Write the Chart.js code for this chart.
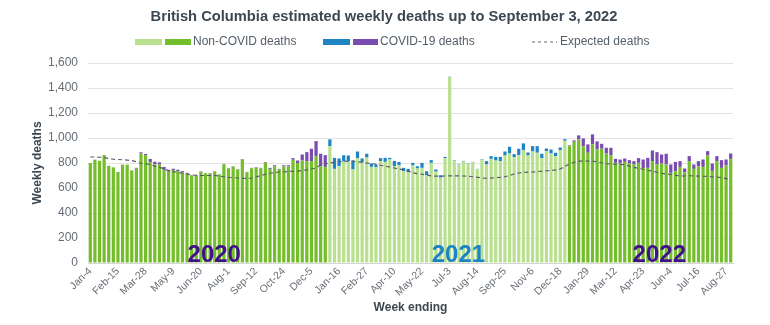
<!DOCTYPE html>
<html>
<head>
<meta charset="utf-8">
<script src="https://cdn.jsdelivr.net/npm/chart.js@4/dist/chart.umd.min.js"></script>
<style>
html, body { margin: 0; padding: 0; background: #fff; }
</style>
</head>
<body>
<canvas id="myChart" width="770" height="325"></canvas>
<script>
// weekly data, Jan 4 2020 .. Sep 3 2022 (140 weeks)
var tickLabels = ["Jan-4","Feb-15","Mar-28","May-9","Jun-20","Aug-1","Sep-12","Oct-24","Dec-5",
  "Jan-16","Feb-27","Apr-10","May-22","Jul-3","Aug-14","Sep-25","Nov-6","Dec-18",
  "Jan-29","Mar-12","Apr-23","Jun-4","Jul-16","Aug-27"];

var nonCovid = [
  800,827,818,864,778,765,728,787,787,741,
  755,876,862,806,790,787,745,734,744,735,
  725,716,700,700,730,717,717,731,708,790,
  756,772,748,829,726,758,763,757,802,753,
  774,747,772,772,826,800,820,815,815,855,
  774,769,935,753,774,812,815,748,839,806,
  844,769,766,815,809,828,774,782,734,726,
  780,756,761,702,801,731,683,839,1485,815,
  782,812,795,805,750,823,788,833,820,815,
  860,876,847,863,903,860,892,882,839,895,
  876,855,903,978,935,970,989,935,882,951,
  908,914,876,863,801,796,809,796,788,801,
  758,761,815,788,796,788,721,734,769,726,
  815,753,774,769,860,737,815,761,780,833];

var covid = [
  0,0,0,0,0,0,0,0,0,0,
  6,10,10,26,20,18,24,12,10,11,
  10,6,4,3,3,3,3,3,3,3,
  3,3,3,3,3,3,4,4,5,8,
  8,6,10,10,13,20,48,72,99,120,
  100,94,54,88,62,50,45,72,53,30,
  30,27,22,24,32,13,43,27,27,27,
  21,18,40,32,22,17,19,10,5,5,
  5,5,4,4,3,5,27,22,29,34,
  32,54,24,51,54,24,43,53,35,21,
  32,27,21,13,6,11,32,62,67,78,
  65,40,46,59,32,32,27,27,27,38,
  70,80,85,99,72,86,67,75,46,30,
  40,35,41,59,35,59,40,62,48,43];

var expected = [
  848,848,846,843,836,830,828,826,823,820,
  810,798,793,788,775,765,755,735,730,725,
  718,712,705,702,700,700,700,700,695,690,
  686,683,680,678,676,680,688,700,710,718,
  724,728,730,732,734,735,740,745,752,760,
  785,795,800,805,810,812,814,815,810,805,
  800,795,790,782,775,768,760,752,745,735,
  722,715,710,703,697,695,695,696,697,697,
  697,696,695,690,686,680,678,680,682,686,
  690,700,712,720,725,727,728,731,735,738,
  740,745,752,772,793,805,815,815,815,814,
  810,802,795,792,790,788,787,775,765,758,
  750,742,735,726,718,712,708,702,695,697,
  698,697,695,694,693,690,688,682,675,668];

var yearLabels = ["2020", "2021", "2022"];

var months = ["Jan","Feb","Mar","Apr","May","Jun","Jul","Aug","Sep","Oct","Nov","Dec"];
var weeks = [];
var years = [];
for (let i = 0; i < nonCovid.length; i++) {
  let d = new Date(2020, 0, 4 + 7 * i);
  weeks.push(months[d.getMonth()] + "-" + d.getDate());
  years.push(d.getFullYear());
}

var darkGreen = "#73be2a", lightGreen = "#b8e08f";
var blue = "#1f84c3", purple = "#7a4cb2";
var FONT = "'Liberation Sans', Arial, sans-serif";

var greenColors = years.map(y => y == 2021 ? lightGreen : darkGreen);
var covidColors = years.map(y => y == 2021 ? blue : purple);

var decor = {
  id: "decor",
  afterDraw(chart) {
    var ctx = chart.ctx;
    var x = chart.scales.x;
    ctx.save();
    // title
    ctx.fillStyle = "#3d4751";
    ctx.font = "bold 14.7px " + FONT;
    ctx.textAlign = "center";
    ctx.textBaseline = "middle";
    ctx.fillText("British Columbia estimated weekly deaths up to September 3, 2022", 384, 17);

    // legend
    ctx.font = "12px " + FONT;
    ctx.textAlign = "left";
    ctx.fillStyle = lightGreen; ctx.fillRect(135, 39, 27, 6);
    ctx.fillStyle = darkGreen; ctx.fillRect(165, 39, 26, 6);
    ctx.fillStyle = blue; ctx.fillRect(323, 39, 27, 6);
    ctx.fillStyle = purple; ctx.fillRect(353, 39, 25, 6);
    ctx.fillStyle = "#555e68";
    ctx.fillText("Non-COVID deaths", 193, 42);
    ctx.fillText("COVID-19 deaths", 380, 42);
    ctx.fillText("Expected deaths", 560, 42);
    ctx.strokeStyle = "#6a6478";
    ctx.lineWidth = 1.2;
    ctx.setLineDash([3, 3]);
    ctx.beginPath(); ctx.moveTo(532, 42); ctx.lineTo(557, 42); ctx.stroke();
    ctx.setLineDash([]);

    // axis titles
    ctx.fillStyle = "#3d4751";
    ctx.font = "bold 12px " + FONT;
    ctx.textAlign = "center";
    ctx.fillText("Week ending", (chart.chartArea.left + chart.chartArea.right) / 2, 308);
    ctx.translate(38, (chart.chartArea.top + chart.chartArea.bottom) / 2);
    ctx.rotate(-Math.PI / 2);
    ctx.fillText("Weekly deaths", 0, 0);
    ctx.restore();

    // year labels
    ctx.save();
    ctx.font = "bold 24px " + FONT;
    ctx.textAlign = "center";
    ctx.textBaseline = "alphabetic";
    var pos = [26.9, 79.9, 123.5];
    var cols = ["#43108c", "#1c84c4", "#43108c"];
    yearLabels.forEach(function (t, k) {
      var px = x.getPixelForValue(Math.floor(pos[k])) + (pos[k] % 1) * (x.getPixelForValue(1) - x.getPixelForValue(0));
      ctx.fillStyle = cols[k];
      ctx.fillText(t, px, chart.chartArea.bottom - 1);
    });
    ctx.restore();
  }
};

new Chart("myChart", {
  type: "bar",
  data: {
    labels: weeks,
    datasets: [{
      type: "line",
      label: "Expected deaths",
      data: expected,
      borderColor: "#5e586c",
      borderWidth: 1.2,
      borderDash: [4, 3],
      pointRadius: 0,
      fill: false,
      order: 0
    }, {
      label: "Non-COVID deaths",
      data: nonCovid,
      backgroundColor: greenColors,
      stack: "s",
      barPercentage: 0.7,
      categoryPercentage: 1,
      order: 1
    }, {
      label: "COVID-19 deaths",
      data: covid,
      backgroundColor: covidColors,
      stack: "s",
      barPercentage: 0.7,
      categoryPercentage: 1,
      order: 1
    }]
  },
  plugins: [decor],
  options: {
    responsive: false,
    animation: false,
    layout: { padding: { top: 63, right: 37, left: 0, bottom: 0 } },
    plugins: {
      legend: { display: false },
      title: { display: false },
      tooltip: { enabled: false }
    },
    scales: {
      x: {
        stacked: true,
        grid: { display: false, drawTicks: false },
        border: { display: true, color: "#d6d6d6" },
        afterFit: function (s) { s.height = 62; },
        ticks: {
          autoSkip: false,
          minRotation: 45,
          maxRotation: 45,
          padding: 2,
          color: "#6a7078",
          font: { size: 10.5, family: FONT },
          callback: function (v, i) { return i % 6 == 0 ? tickLabels[i / 6] : ""; }
        }
      },
      y: {
        stacked: true,
        min: 0,
        max: 1600,
        afterFit: function (s) { s.width = 88; },
        grid: { color: "#e3e3e3", drawTicks: false },
        border: { display: false },
        ticks: {
          stepSize: 200,
          padding: 10,
          color: "#666d75",
          font: { size: 12, family: FONT }
        }
      }
    }
  }
});
</script>
</body>
</html>
